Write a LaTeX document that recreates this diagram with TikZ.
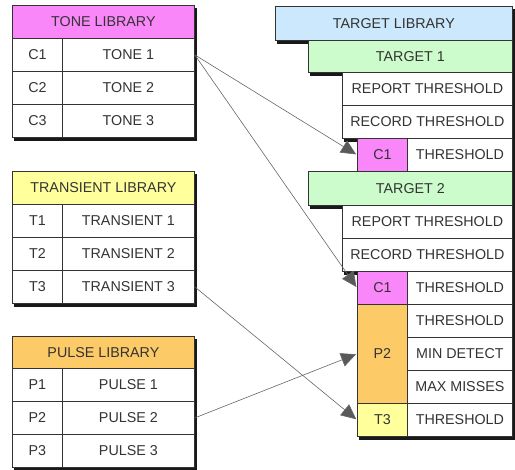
\documentclass[tikz,border=0pt]{standalone}
\usepackage{fontspec}
\setmainfont{Liberation Sans}
\usetikzlibrary{arrows.meta}

\definecolor{tonecol}{RGB}{250,135,250}
\definecolor{transcol}{RGB}{255,255,155}
\definecolor{pulsecol}{RGB}{253,202,104}
\definecolor{tgtcol}{RGB}{204,232,252}
\definecolor{tgtonecol}{RGB}{204,252,204}

\begin{document}
\begin{tikzpicture}[x=1pt, y=-1pt,
    cell/.style={draw=black!80, line width=0.8pt, fill=white, anchor=north west,
        inner sep=0pt, minimum height=33pt, text=black!80,
        font=\fontsize{14.3}{16}\selectfont,
        preaction={fill=black!90, draw=black!90, transform canvas={shift={(1.5pt,-3pt)}}}},
    link/.style={draw=black!60, line width=0.6pt,
        -{Triangle[length=15pt,width=14pt,fill=black!65]}, shorten >=1pt}]
    \useasboundingbox (0,0) rectangle (515,470);

    % === TONE LIBRARY ===
    \node[cell, fill=tonecol, minimum width=182pt] (tonehdr) at (12,5) {TONE LIBRARY};
    \node[cell, minimum width=50pt]  (c1) at (12,38)  {C1};
    \node[cell, minimum width=132pt] (tone1) at (62,38)  {TONE 1};
    \node[cell, minimum width=50pt]  (c2) at (12,71)  {C2};
    \node[cell, minimum width=132pt] (tone2) at (62,71)  {TONE 2};
    \node[cell, minimum width=50pt]  (c3) at (12,104) {C3};
    \node[cell, minimum width=132pt] (tone3) at (62,104) {TONE 3};

    % === TRANSIENT LIBRARY ===
    \node[cell, fill=transcol, minimum width=182pt] (transhdr) at (12,171) {TRANSIENT LIBRARY};
    \node[cell, minimum width=50pt]  (t1) at (12,204) {T1};
    \node[cell, minimum width=132pt] (trans1) at (62,204) {TRANSIENT 1};
    \node[cell, minimum width=50pt]  (t2) at (12,237) {T2};
    \node[cell, minimum width=132pt] (trans2) at (62,237) {TRANSIENT 2};
    \node[cell, minimum width=50pt]  (t3) at (12,270) {T3};
    \node[cell, minimum width=132pt] (trans3) at (62,270) {TRANSIENT 3};

    % === PULSE LIBRARY ===
    \node[cell, fill=pulsecol, minimum width=182pt, minimum height=32pt] (pulsehdr) at (12,336) {PULSE LIBRARY};
    \node[cell, minimum width=50pt]  (p1) at (12,368) {P1};
    \node[cell, minimum width=132pt] (pulse1) at (62,368) {PULSE 1};
    \node[cell, minimum width=50pt]  (p2) at (12,401) {P2};
    \node[cell, minimum width=132pt] (pulse2) at (62,401) {PULSE 2};
    \node[cell, minimum width=50pt]  (p3) at (12,434) {P3};
    \node[cell, minimum width=132pt] (pulse3) at (62,434) {PULSE 3};

    % === TARGET LIBRARY ===
    \node[cell, fill=tgtcol, minimum width=237pt, minimum height=34pt] (tgthdr) at (275,6) {TARGET LIBRARY};

    % target 1
    \node[cell, fill=tgtonecol, minimum width=204pt, minimum height=32pt] (tgtone) at (308,40) {TARGET 1};
    \node[cell, minimum width=170pt] (reporta) at (342,72)  {REPORT THRESHOLD};
    \node[cell, minimum width=170pt] (recorda) at (342,105) {RECORD THRESHOLD};
    \node[cell, fill=tonecol, minimum width=50pt] (tonea) at (357,138) {C1};
    \node[cell, minimum width=105pt] (thresha) at (407,138) {THRESHOLD};

    % target 2
    \node[cell, fill=tgtonecol, minimum width=204pt, minimum height=34pt] (tgttwo) at (308,171) {TARGET 2};
    \node[cell, minimum width=170pt] (reportb) at (342,205) {REPORT THRESHOLD};
    \node[cell, minimum width=170pt] (recordb) at (342,238) {RECORD THRESHOLD};
    \node[cell, fill=tonecol, minimum width=50pt] (toneb) at (357,271) {C1};
    \node[cell, minimum width=105pt] (threshb) at (407,271) {THRESHOLD};
    \node[cell, fill=pulsecol, minimum width=50pt, minimum height=99pt] (pulseb) at (357,304) {P2};
    \node[cell, minimum width=105pt] (threshc) at (407,304) {THRESHOLD};
    \node[cell, minimum width=105pt] (mindet) at (407,337) {MIN DETECT};
    \node[cell, minimum width=105pt] (maxmiss) at (407,370) {MAX MISSES};
    \node[cell, fill=transcol, minimum width=50pt] (transb) at (357,403) {T3};
    \node[cell, minimum width=105pt] (threshd) at (407,403) {THRESHOLD};

    % library references
    \draw[link] (tone1.east) -- (tonea.west);
    \draw[link] (tone1.east) -- (toneb.west);
    \draw[link] (trans3.east) -- (transb.west);
    \draw[link] (pulse2.east) -- (pulseb.west);

\end{tikzpicture}
\end{document}
